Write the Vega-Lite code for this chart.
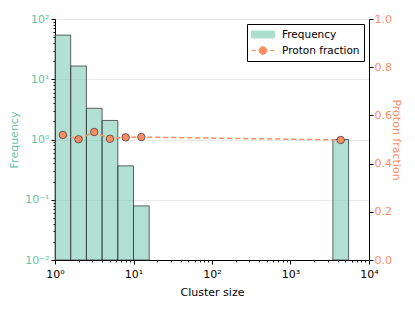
{
  "$schema": "https://vega.github.io/schema/vega-lite/v6.json",
  "width": 314,
  "height": 241,
  "autosize": "none",
  "padding": {"left": 55, "top": 19, "right": 46, "bottom": 52},
  "config": {
    "view": {"stroke": null},
    "font": "DejaVu Sans",
    "axis": {
      "labelFont": "DejaVu Sans",
      "titleFont": "DejaVu Sans",
      "labelFontSize": 11,
      "titleFontSize": 11,
      "titleFontWeight": "normal",
      "domainColor": "black",
      "tickColor": "black",
      "labelColor": "black",
      "titleColor": "black",
      "gridColor": "#e8e8e8",
      "labelOverlap": false,
      "labelFlush": false
    }
  },
  "data": {
    "values": [
      {"x0": 1, "x1": 1.585, "xc": 1.259, "freq": 54, "frac": 0.519},
      {"x0": 1.585, "x1": 2.512, "xc": 1.995, "freq": 16.6, "frac": 0.501},
      {"x0": 2.512, "x1": 3.981, "xc": 3.162, "freq": 3.3, "frac": 0.531},
      {"x0": 3.981, "x1": 6.31, "xc": 5.012, "freq": 2.07, "frac": 0.503},
      {"x0": 6.31, "x1": 10, "xc": 7.943, "freq": 0.365, "frac": 0.509},
      {"x0": 10, "x1": 15.85, "xc": 12.59, "freq": 0.079, "frac": 0.51},
      {"x0": 3467, "x1": 5495, "xc": 4365, "freq": 1.0, "frac": 0.498}
    ]
  },
  "layer": [
    {
      "mark": {"type": "rect", "fillOpacity": 0.5, "stroke": "#333333", "strokeOpacity": 0.75, "strokeWidth": 1},
      "encoding": {
        "x": {
          "field": "x0", "type": "quantitative",
          "scale": {"type": "log", "domain": [1, 10000], "nice": false},
          "axis": {
            "title": "Cluster size",
            "grid": false,
            "values": [1,2,3,4,5,6,7,8,9,10,20,30,40,50,60,70,80,90,100,200,300,400,500,600,700,800,900,1000,2000,3000,4000,5000,6000,7000,8000,9000,10000],
            "labelExpr": "abs(log(datum.value)/LN10 - round(log(datum.value)/LN10)) < 1e-6 ? '10' + ['⁻²','⁻¹','⁰','¹','²','³','⁴'][round(log(datum.value)/LN10)+2] : ''",
            "tickSize": {"condition": {"test": "abs(log(datum.value)/LN10 - round(log(datum.value)/LN10)) < 1e-6", "value": 4}, "value": 2},
            "labelPadding": 4,
            "titlePadding": 7
          }
        },
        "x2": {"field": "x1"},
        "y": {
          "field": "freq", "type": "quantitative",
          "scale": {"type": "log", "domain": [0.01, 100], "nice": false},
          "axis": {
            "title": "Frequency",
            "titleColor": "#66c2a5",
            "labelColor": "#66c2a5",
            "orient": "left",
            "grid": true,
            "gridOpacity": {"condition": {"test": "abs(log(datum.value)/LN10 - round(log(datum.value)/LN10)) < 1e-6", "value": 1}, "value": 0},
            "values": [0.01,0.02,0.03,0.04,0.05,0.06,0.07,0.08,0.09,0.1,0.2,0.3,0.4,0.5,0.6,0.7,0.8,0.9,1,2,3,4,5,6,7,8,9,10,20,30,40,50,60,70,80,90,100],
            "labelExpr": "abs(log(datum.value)/LN10 - round(log(datum.value)/LN10)) < 1e-6 ? '10' + ['⁻²','⁻¹','⁰','¹','²','³','⁴'][round(log(datum.value)/LN10)+2] : ''",
            "tickSize": {"condition": {"test": "abs(log(datum.value)/LN10 - round(log(datum.value)/LN10)) < 1e-6", "value": 4}, "value": 2},
            "labelPadding": 2,
            "titlePadding": 5
          }
        },
        "y2": {"datum": 0.01},
        "color": {
          "datum": "Frequency", "type": "nominal",
          "scale": {"domain": ["Frequency", "Proton fraction"], "range": ["#66c2a5", "#fc8d62"]},
          "legend": {
            "title": null,
            "orient": "top-right",
            "offset": 5,
            "padding": 4,
            "strokeColor": "black",
            "fillColor": "white",
            "cornerRadius": 0,
            "labelFont": "DejaVu Sans",
            "labelFontSize": 10.5,
            "labelColor": "black",
            "symbolSize": 529,
            "clipHeight": 13,
            "labelOffset": 7,
            "rowPadding": 3,
            "symbolStrokeWidth": 1,
            "symbolType": {"expr": "datum.value === 'Frequency' ? 'M-1,-0.3L1,-0.3L1,0.3L-1,0.3Z' : 'M-1,0L-0.62,0M-0.45,0L-0.38,0M0.38,0L0.45,0M0.62,0L1,0M0.33,0A0.33,0.33,0,1,1,-0.33,0A0.33,0.33,0,1,1,0.33,0'"},
            "symbolOpacity": {"expr": "datum.value === 'Frequency' ? 0.55 : 1"}
          }
        }
      }
    },
    {
      "encoding": {
        "x": {"field": "xc", "type": "quantitative", "axis": {"title": "Cluster size"}},
        "y": {
          "field": "frac", "type": "quantitative",
          "scale": {"domain": [0, 1], "nice": false},
          "axis": {
            "title": "Proton fraction",
            "orient": "right",
            "titleColor": "#fc8d62",
            "labelColor": "#fc8d62",
            "grid": false,
            "values": [0, 0.2, 0.4, 0.6, 0.8, 1.0],
            "format": ".1f",
            "tickSize": 4,
            "labelPadding": 1,
            "titlePadding": -1
          }
        },
        "color": {"datum": "Proton fraction", "type": "nominal"}
      },
      "layer": [
        {"mark": {"type": "line", "strokeDash": [5, 3], "strokeWidth": 1.5}},
        {"mark": {"type": "point", "shape": "circle", "filled": true, "size": 56, "opacity": 1, "stroke": "#333333", "strokeWidth": 0.7}}
      ]
    }
  ],
  "resolve": {"scale": {"y": "independent"}}
}
